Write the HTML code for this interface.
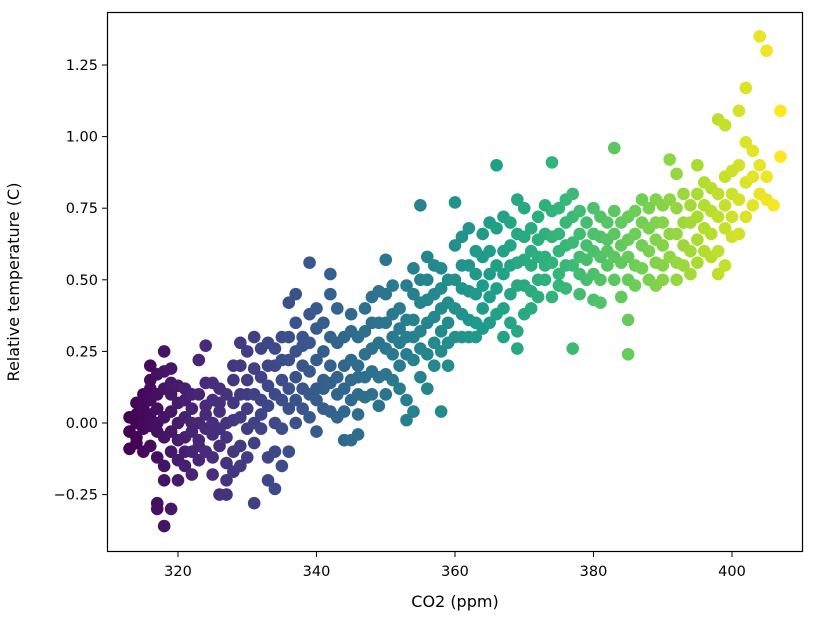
<!DOCTYPE html>
<html><head><meta charset="utf-8"><style>
body{margin:0;background:#fff;}
svg{display:block;font-family:"DejaVu Sans","Liberation Sans",sans-serif;}
</style></head><body>
<svg id="chart" width="818" height="620">
<g id="points"></g>
<rect x="107.5" y="12.5" width="695" height="539" fill="none" stroke="#000" stroke-width="1.2"/>
<g id="axes"></g>
<text x="455" y="607" text-anchor="middle" font-size="16">CO2 (ppm)</text>
<text x="19" y="282" text-anchor="middle" font-size="16" transform="rotate(-90 19 282)">Relative temperature (C)</text>
</svg>
<script>
const co2Columns = [313,314,315,316,317,318,319,320,321,322,323,324,325,326,327,328,329,330,331,332,333,334,335,336,337,338,339,340,341,342,343,344,345,346,347,348,349,350,351,352,353,354,355,356,357,358,359,360,361,362,363,364,365,366,367,368,369,370,371,372,373,374,375,376,377,378,379,380,381,382,383,384,385,386,387,388,389,390,391,392,393,394,395,396,397,398,399,400,401,402,403,404,405,406,407];
const tempValues = [
[-0.03,-0.09,0.02],[0.07,0.0,-0.07,0.03,-0.05],[0.1,0.04,-0.02,-0.1,0.06,0.0],
[0.2,0.15,0.08,-0.01,-0.08,0.12,0.03],[0.17,0.1,0.05,-0.03,-0.12,-0.28,-0.3,0.0],
[0.25,0.18,0.12,0.02,-0.05,-0.15,-0.36,-0.2],[0.19,0.1,0.04,-0.03,-0.1,-0.3,0.14],
[0.13,0.07,0.0,-0.06,-0.13,-0.2],[0.12,0.02,-0.05,-0.1,-0.15,0.08],[0.05,-0.03,-0.1,-0.18,0.0,0.1],
[0.22,0.1,0.0,-0.06,-0.13,-0.08],[0.27,0.14,0.06,-0.02,-0.1,0.03],[0.14,0.08,-0.04,-0.12,-0.18,0.0],
[0.12,0.04,-0.02,-0.08,-0.25,0.07],[0.1,0.0,-0.05,-0.14,-0.25,-0.2],[0.15,0.07,0.01,-0.1,-0.17,0.2],
[0.28,0.2,0.1,0.02,-0.08,-0.15],[0.25,0.15,0.05,-0.02,-0.12,0.1],[0.3,0.19,0.1,0.0,-0.28,-0.07],
[0.26,0.16,0.08,0.03,-0.02],[0.28,0.2,0.13,0.06,-0.2,-0.12],[0.26,0.2,0.1,0.0,-0.1,-0.23],
[0.3,0.22,0.15,0.08,-0.02,-0.15],[0.42,0.3,0.22,0.12,0.05,-0.1],[0.35,0.25,0.16,0.08,0.0,0.45],
[0.3,0.2,0.12,0.05,0.27],[0.56,0.38,0.28,0.18,0.1,0.02],[0.4,0.33,0.22,0.12,0.08,-0.03],
[0.35,0.25,0.15,0.12,0.05],[0.52,0.3,0.2,0.14,0.04,0.45],[0.4,0.28,0.16,0.1,0.02],
[0.3,0.2,0.12,0.04,-0.06],[0.32,0.22,0.15,0.08,-0.06,0.38],[0.3,0.2,0.16,0.1,0.03,-0.04],
[0.4,0.32,0.24,0.16,0.09],[0.44,0.35,0.26,0.18,0.1],[0.46,0.35,0.28,0.16,0.06],
[0.57,0.45,0.35,0.26,0.17,0.1],[0.48,0.38,0.3,0.24,0.15],[0.4,0.33,0.28,0.2,0.12],
[0.48,0.36,0.3,0.24,0.01,0.08],[0.54,0.45,0.36,0.3,0.04,0.22],[0.76,0.5,0.42,0.32,0.26,0.16],
[0.5,0.43,0.35,0.24,0.12,0.58],[0.55,0.45,0.37,0.28,0.2],[0.54,0.47,0.4,0.32,0.04,0.25],
[0.5,0.42,0.35,0.28,0.2],[0.77,0.62,0.5,0.4,0.3],[0.65,0.55,0.47,0.38,0.3],
[0.68,0.55,0.46,0.36,0.3],[0.6,0.52,0.45,0.35,0.3],[0.66,0.58,0.48,0.4,0.33],
[0.7,0.6,0.52,0.44,0.35],[0.9,0.68,0.55,0.47,0.38],[0.72,0.6,0.52,0.4,0.3],
[0.7,0.62,0.55,0.45,0.35],[0.78,0.66,0.56,0.48,0.32,0.26],[0.75,0.65,0.57,0.48,0.38],
[0.68,0.6,0.55,0.46,0.4],[0.72,0.64,0.58,0.5,0.44],[0.76,0.66,0.58,0.5,0.55],
[0.91,0.74,0.65,0.56,0.44],[0.75,0.66,0.6,0.52,0.48],[0.78,0.7,0.62,0.55,0.47],
[0.8,0.72,0.63,0.55,0.26],[0.74,0.66,0.58,0.52,0.45],[0.7,0.62,0.57,0.5],
[0.75,0.66,0.6,0.52,0.43],[0.72,0.65,0.58,0.5,0.42],[0.7,0.64,0.6,0.55],
[0.96,0.74,0.66,0.58,0.5],[0.7,0.62,0.56,0.44],[0.72,0.64,0.58,0.5,0.24,0.36],
[0.74,0.66,0.55,0.48],[0.78,0.7,0.62,0.54],[0.75,0.68,0.6,0.5],
[0.78,0.7,0.64,0.56,0.48],[0.76,0.7,0.62,0.55,0.5],[0.92,0.78,0.66,0.58],
[0.87,0.75,0.66,0.56,0.5],[0.8,0.7,0.62,0.55],[0.76,0.7,0.6,0.52],
[0.9,0.8,0.72,0.64,0.56],[0.84,0.76,0.68,0.6],[0.82,0.74,0.66,0.58],
[1.06,0.8,0.72,0.6,0.52],[1.04,0.86,0.76,0.68,0.55],[0.88,0.8,0.72,0.65],
[1.09,0.9,0.78,0.66],[1.17,0.98,0.84,0.72],[0.95,0.86,0.76],
[1.35,0.9,0.8],[1.3,0.86,0.78],[0.76],[1.09,0.93]
];
const xTicks = [320,340,360,380,400];
const yTicks = [-0.25,0,0.25,0.5,0.75,1.0,1.25];
const yTickLabels = ["\u22120.25","0.00","0.25","0.50","0.75","1.00","1.25"];

const NS="http://www.w3.org/2000/svg";
const xScale = v => 178 + (v-320)*6.925;
const yScale = v => 423 - v*286.4;
const vir=[[68,1,84],[72,40,120],[62,73,137],[49,104,142],[38,130,142],[31,158,137],[53,183,121],[109,205,89],[180,222,44],[253,231,37]];
function viridis(t){t=Math.max(0,Math.min(1,t));const s=t*(vir.length-1);const i=Math.min(vir.length-2,Math.floor(s));const f=s-i;
const c=vir[i].map((a,k)=>Math.round(a+(vir[i+1][k]-a)*f));return `rgb(${c[0]},${c[1]},${c[2]})`;}
const xmin=Math.min(...co2Columns), xmax=Math.max(...co2Columns);
const pg=document.getElementById('points');
co2Columns.forEach((x,i)=>{
  tempValues[i].forEach(t=>{
    const c=document.createElementNS(NS,'circle');
    c.setAttribute('cx',xScale(x));c.setAttribute('cy',yScale(t));c.setAttribute('r',6.3);
    c.setAttribute('fill',viridis((x-xmin)/(xmax-xmin)));
    
    
    pg.appendChild(c);
  });
});
const ax=document.getElementById('axes');
xTicks.forEach(v=>{
  const l=document.createElementNS(NS,'line');
  l.setAttribute('x1',xScale(v));l.setAttribute('x2',xScale(v));l.setAttribute('y1',552);l.setAttribute('y2',557);l.setAttribute('stroke','#000');
  
  
  ax.appendChild(l);
  const t=document.createElementNS(NS,'text');
  t.setAttribute('x',xScale(v));t.setAttribute('y',576);t.setAttribute('text-anchor','middle');t.setAttribute('font-size','14.5');
  t.textContent=v;
  
  
  ax.appendChild(t);
});
yTicks.forEach((v,i)=>{
  const l=document.createElementNS(NS,'line');
  l.setAttribute('x1',102);l.setAttribute('x2',107);l.setAttribute('y1',yScale(v));l.setAttribute('y2',yScale(v));l.setAttribute('stroke','#000');
  
  
  ax.appendChild(l);
  const t=document.createElementNS(NS,'text');
  t.setAttribute('x',98);t.setAttribute('y',yScale(v)+5);t.setAttribute('text-anchor','end');t.setAttribute('font-size','14.5');
  t.textContent=yTickLabels[i];
  
  
  ax.appendChild(t);
});
</script>
</body></html>
